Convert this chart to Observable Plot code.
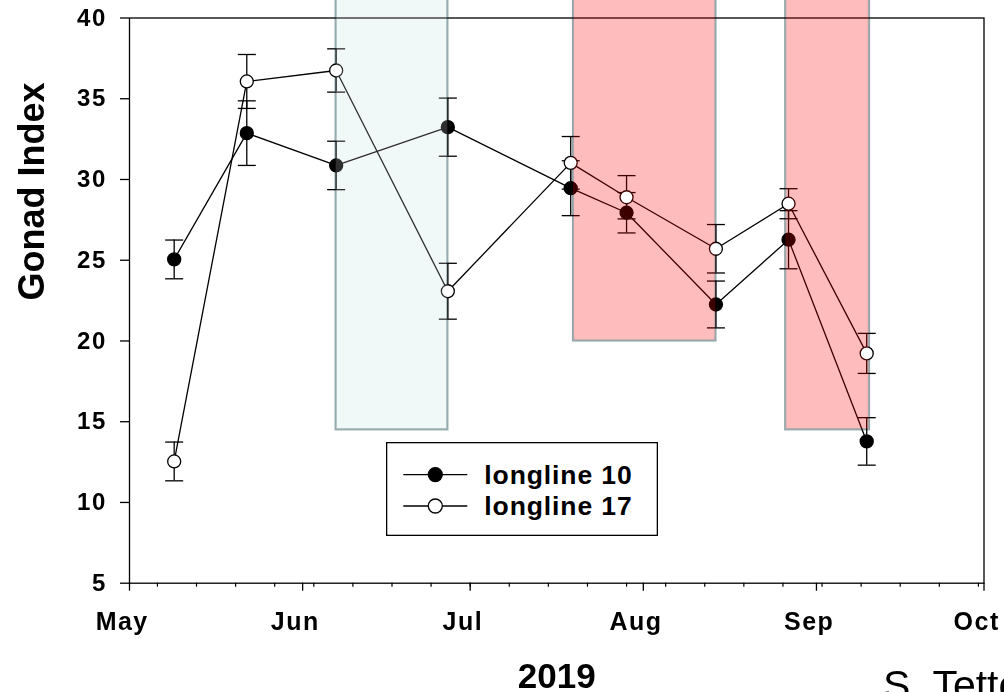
<!DOCTYPE html>
<html>
<head>
<meta charset="utf-8">
<script src="https://cdn.jsdelivr.net/npm/d3@7"></script>
<script src="https://cdn.jsdelivr.net/npm/@observablehq/plot@0.6"></script>
<style>
  html, body { margin: 0; padding: 0; background: #fff; }
  #wrap { position: relative; width: 1004px; height: 692px; overflow: hidden;
          font-family: Arial, "Liberation Sans", sans-serif; }
  #wrap svg.chart { position: absolute; left: 0; top: 0; }
  g[aria-label="y-axis tick label"] text { letter-spacing: 1.6px; }
  g[aria-label="x-axis tick label"] text { letter-spacing: 1.5px; }
  #legend { position: absolute; left: 386px; top: 442px; }
</style>
</head>
<body>
<div id="wrap"></div>
<script>
// ---- data ----
const sampleDates   = ["2019-05-09","2019-05-22","2019-06-07","2019-06-27","2019-07-19","2019-07-29","2019-08-14","2019-08-27","2019-09-10"];
const longline10    = [25.05, 32.87, 30.87, 33.24, 29.46, 27.94, 22.26, 26.27, 13.78];
const longline10Err = [1.2, 2.0, 1.5, 1.8, 1.7, 1.25, 1.45, 1.8, 1.47];
const longline17    = [12.54, 36.07, 36.75, 23.08, 31.03, 28.9, 25.71, 28.5, 19.23];
const longline17Err = [1.2, 1.67, 1.34, 1.73, 1.63, 1.34, 1.5, 0.93, 1.24];
const seriesNames   = ["longline 10", "longline 17"];
const monthTicks    = ["2019-05-01","2019-06-01","2019-07-01","2019-08-01","2019-09-01","2019-10-01"];
const yTicks        = [5, 10, 15, 20, 25, 30, 35, 40];
const periodStart   = ["2019-06-07T00:00Z","2019-07-19T12:00Z","2019-08-26T12:00Z"];
const periodEnd     = ["2019-06-27T00:00Z","2019-08-14T00:00Z","2019-09-10T12:00Z"];
const periodFloor   = [14.5, 20, 14.5];
const periodKind    = ["cool", "warm", "warm"];
const xTitle = "2019";
const yTitle = "Gonad Index";
const credit = "S. Tettelbach";

// ---- styles ----
const FONT = "Arial, 'Liberation Sans', sans-serif";
const periodFill = {cool: "#edf6f7", warm: "#ffbcbc"};
const periodTint = {cool: "#2e2e2e", warm: "#3c0000"};
const periodEdge = "#8fa7aa";
const seriesFill = {"longline 10": "black", "longline 17": "white"};
const PERIOD_TOP = 42; // periods run past the top of the frame

// ---- tables ----
const rows = [];
sampleDates.forEach((d, i) => {
  rows.push({date: new Date(d), value: longline10[i], err: longline10Err[i], series: seriesNames[0]});
  rows.push({date: new Date(d), value: longline17[i], err: longline17Err[i], series: seriesNames[1]});
});
const periods = periodStart.map((s, i) => ({
  start: new Date(s), end: new Date(periodEnd[i]), floor: periodFloor[i], top: PERIOD_TOP, kind: periodKind[i]
}));
const months = monthTicks.map(d => new Date(d));
const mondays = d3.utcMonday.range(new Date("2019-05-01"), new Date("2019-10-02"));

const capSymbol = {draw(ctx) { ctx.moveTo(-9, 0); ctx.lineTo(9, 0); }};

const chart = Plot.plot({
  width: 1004,
  height: 692,
  marginLeft: 129,
  marginRight: 20.5,
  marginTop: 17.5,
  marginBottom: 109.3,
  style: {fontFamily: FONT, background: "white", overflow: "hidden"},
  className: "chart",
  x: {type: "utc", domain: [months[0], months[months.length - 1]], label: null},
  y: {domain: [5, 40], label: null},
  color: {type: "identity"},
  marks: [
    Plot.rect(periods, {x1: "start", x2: "end", y1: "floor", y2: "top",
      fill: d => periodFill[d.kind], stroke: periodEdge, strokeWidth: 2.2}),
    Plot.frame({stroke: "black", strokeWidth: 1.3}),
    Plot.axisY({ticks: yTicks, tickSize: 9, tickPadding: 13.6, fontSize: 24, fontWeight: "bold",
      strokeWidth: 1.3, label: null}),
    Plot.axisX({ticks: mondays, tickSize: 4, tickFormat: () => "", strokeWidth: 1.2, label: null}),
    Plot.axisX({ticks: months, tickSize: 8, tickFormat: () => "", strokeWidth: 1.3, label: null}),
    Plot.axisX({ticks: months, tickSize: 0, tickPadding: 29.3, tickFormat: "%b", dx: -7.3,
      fontSize: 25, fontWeight: "bold", label: null}),
    Plot.ruleX(rows, {x: "date", y1: d => d.value - d.err, y2: d => d.value + d.err,
      stroke: "black", strokeWidth: 1.3}),
    Plot.dot(rows, {x: "date", y: d => d.value + d.err, symbol: capSymbol, fill: "none",
      stroke: "black", strokeWidth: 1.3}),
    Plot.dot(rows, {x: "date", y: d => d.value - d.err, symbol: capSymbol, fill: "none",
      stroke: "black", strokeWidth: 1.3}),
    Plot.line(rows, {x: "date", y: "value", z: "series", stroke: "black", strokeWidth: 1.3}),
    Plot.dot(rows, {x: "date", y: "value", r: 6.5, fill: d => seriesFill[d.series],
      stroke: "black", strokeWidth: 1.3}),
    Plot.rect(periods, {x1: "start", x2: "end", y1: "floor", y2: "top",
      fill: d => periodTint[d.kind], mixBlendMode: "screen"}),
    Plot.text([yTitle], {frameAnchor: "left", dx: -97.5, rotate: -90, lineAnchor: "middle",
      fontSize: 36, fontWeight: "bold", fill: "black"}),
    Plot.text([xTitle], {frameAnchor: "bottom", dy: 94, lineAnchor: "middle",
      fontSize: 35, fontWeight: "bold", fill: "black"}),
    Plot.text([credit], {frameAnchor: "bottom-right", dx: -101, dy: 102.6, lineAnchor: "middle",
      textAnchor: "start", fontSize: 41, fontWeight: "normal", fill: "black"})
  ]
});
document.getElementById("wrap").appendChild(chart);

// ---- legend (overlay inside the frame) ----
const legendW = 272, legendH = 94;
const lg = d3.select("#wrap").append("svg").attr("id", "legend")
  .attr("width", legendW).attr("height", legendH);
lg.append("rect").attr("x", 0.65).attr("y", 0.65).attr("width", legendW - 1.3).attr("height", legendH - 1.3)
  .attr("fill", "white").attr("stroke", "black").attr("stroke-width", 1.3);
seriesNames.forEach((name, i) => {
  const cy = 32.6 + i * 31.4;
  lg.append("line").attr("x1", 17.3).attr("x2", 81.3).attr("y1", cy).attr("y2", cy)
    .attr("stroke", "black").attr("stroke-width", 1.3);
  lg.append("circle").attr("cx", 49.3).attr("cy", cy).attr("r", 7)
    .attr("fill", seriesFill[name]).attr("stroke", "black").attr("stroke-width", 1.3);
  lg.append("text").attr("x", 98.3).attr("y", cy).attr("dy", "0.35em")
    .attr("font-family", FONT).attr("font-weight", "bold").attr("font-size", 26.5)
    .attr("letter-spacing", "0.9px").text(name);
});
</script>
</body>
</html>
